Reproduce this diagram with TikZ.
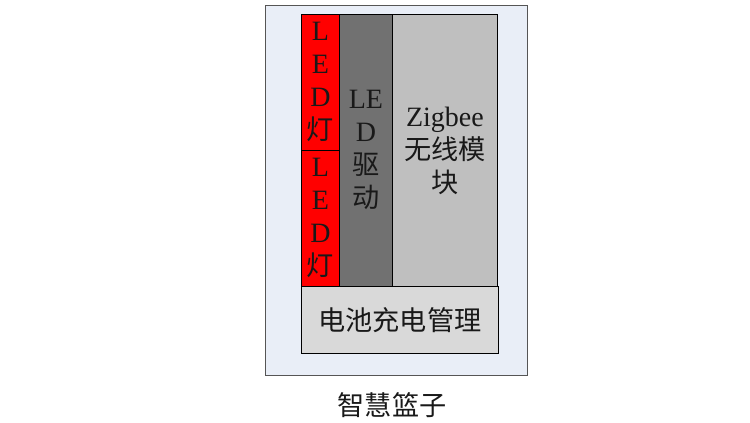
\documentclass[tikz,border=0pt]{standalone}
\usepackage{fontspec}
\setmainfont{Liberation Serif}
\newfontfamily\cjk{Noto Sans CJK SC}[Scale=0.97]
\definecolor{outerfill}{HTML}{E9EEF7}
\definecolor{outerline}{HTML}{555555}
\definecolor{ledred}{HTML}{FF0000}
\definecolor{drvgray}{HTML}{717171}
\definecolor{zbgray}{HTML}{BFBFBF}
\definecolor{batgray}{HTML}{D9D9D9}
\tikzset{
  box/.style={draw=black, line width=0.8pt, anchor=north west, inner sep=0pt, align=center,
    font=\fontsize{28}{33}\selectfont, text=black!90},
}
\begin{document}
\begin{tikzpicture}[x=1pt,y=-1pt]
\useasboundingbox (0,0) rectangle (750,423);
\node[box, draw=outerline, fill=outerfill, minimum width=262pt, minimum height=370pt] (outer) at (265,5) {};
\node[box, fill=ledred, minimum width=38pt, minimum height=136pt] (led1) at (301,14) {L\\E\\D\\{\cjk 灯}};
\node[box, fill=ledred, minimum width=38pt, minimum height=136pt] (led2) at (301,150) {L\\E\\D\\{\cjk 灯}};
\node[box, fill=drvgray, minimum width=53pt, minimum height=272pt] (drv) at (339,14) {LE\\D\\{\cjk 驱}\\{\cjk 动}};
\node[box, fill=zbgray, minimum width=105pt, minimum height=272pt] (zb) at (392,14) {Zigbee\\{\cjk 无线模}\\{\cjk 块}};
\node[box, fill=batgray, minimum width=197pt, minimum height=67pt] (bat) at (301,286) {{\cjk 电池充电管理}};
\node[font=\fontsize{28}{33}\selectfont\cjk, text=black!90, inner sep=0pt] (title) at (392,405) {智慧篮子};
\end{tikzpicture}
\end{document}
